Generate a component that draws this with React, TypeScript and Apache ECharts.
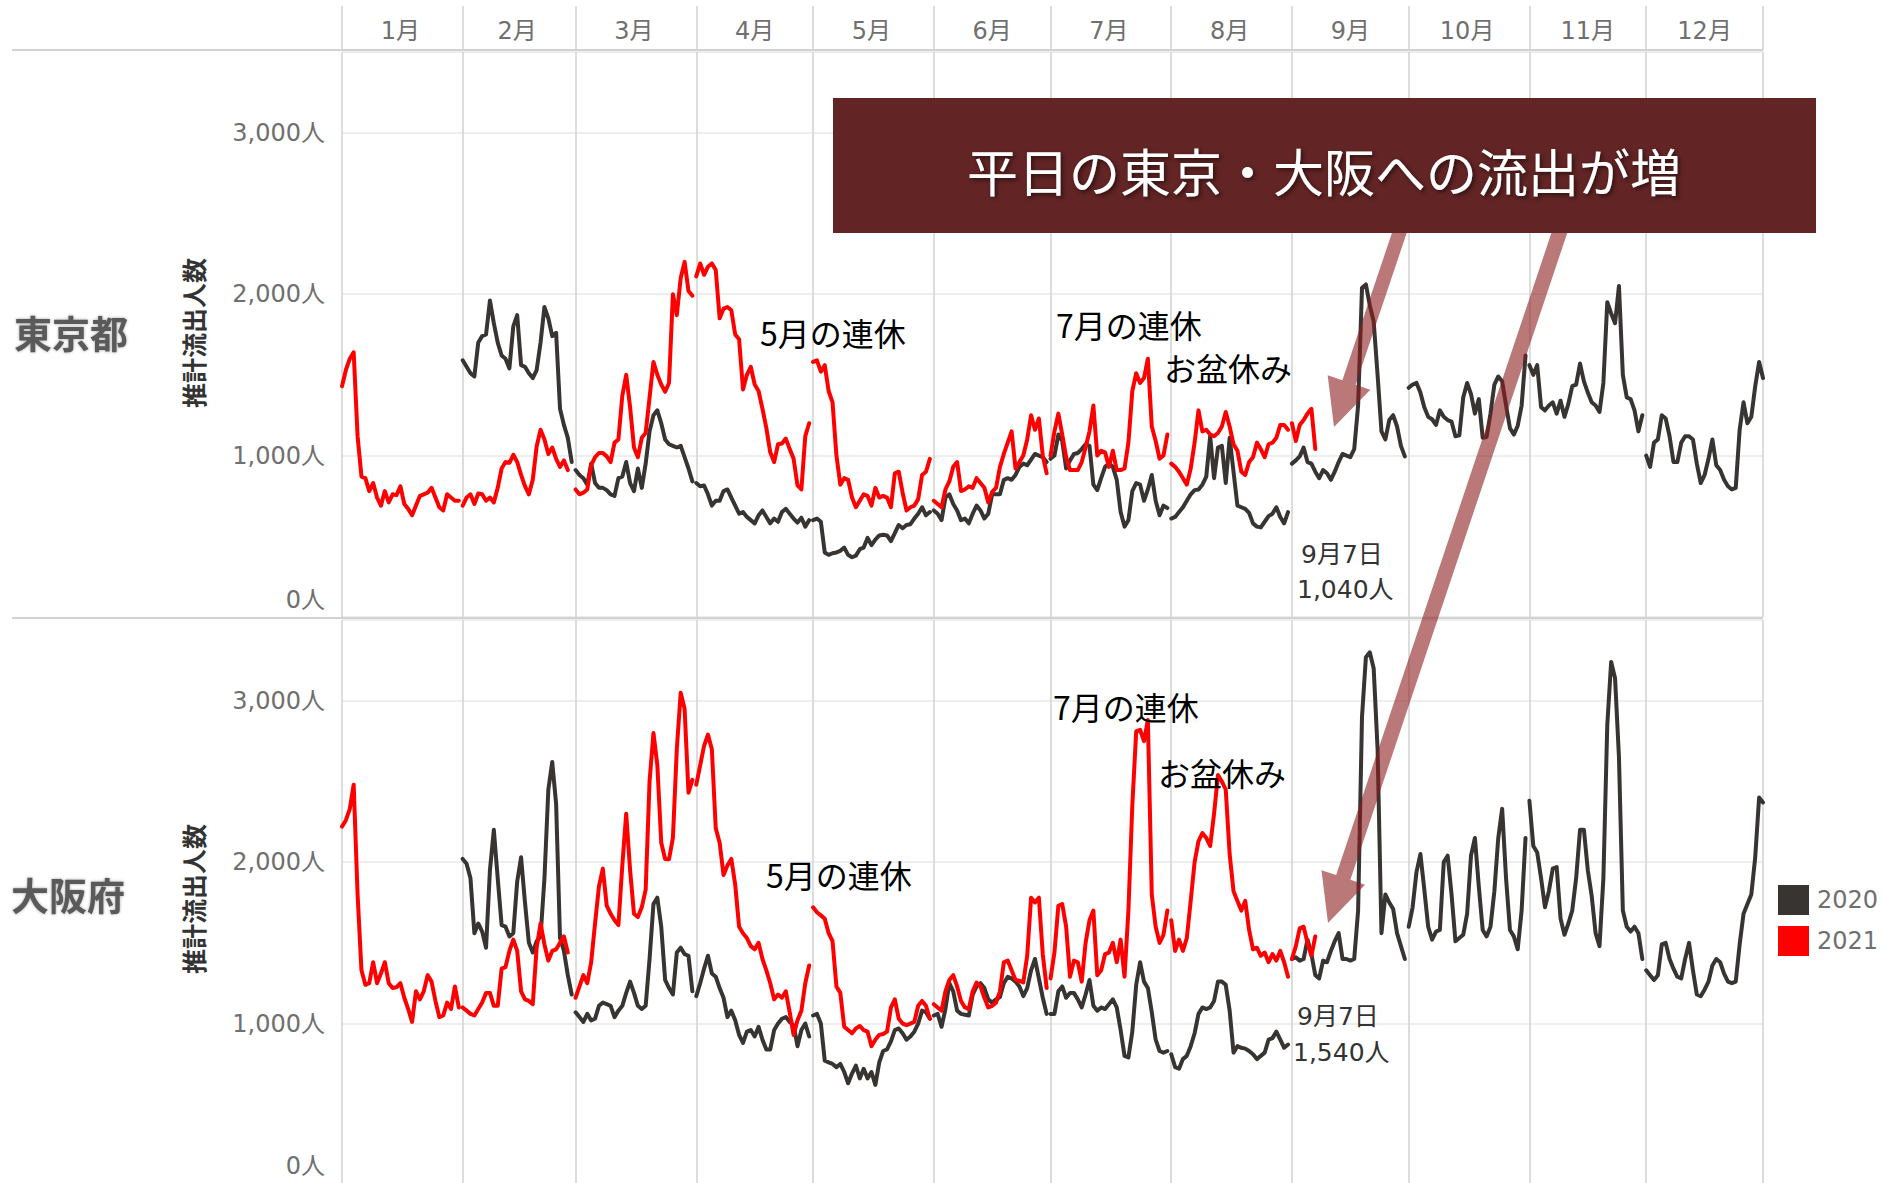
import React, { useEffect, useRef } from 'react';
import * as echarts from 'echarts';

const FONT = '"Noto Sans CJK JP", "Noto Sans", sans-serif';
const NUM_FONT = '"DejaVu Sans", "Noto Sans CJK JP", sans-serif';
const MONTH_LABELS = ['1月', '2月', '3月', '4月', '5月', '6月', '7月', '8月', '9月', '10月', '11月', '12月'];
// day slots per month on the shared (2020, leap-year) day axis
const MONTH_DAYS = [31, 29, 31, 30, 31, 30, 31, 31, 30, 31, 30, 31];
const SERIES_NAMES = ['2020', '2021'];
const Y_TICK_VALUES = [1000, 2000, 3000];

// 東京都 — daily estimated outflow, one array per month (Jan..Dec)
const tokyo2020 = [
  [],
  [1590, 1550, 1510, 1490, 1700, 1740, 1750, 1960, 1820, 1700, 1620, 1600, 1540, 1800, 1870, 1560, 1550, 1510, 1480, 1530, 1700, 1920, 1850, 1740, 1760, 1290, 1190, 1110, 960],
  [910, 880, 860, 820, 950, 830, 800, 800, 786, 760, 750, 860, 870, 960, 830, 780, 920, 800, 950, 1150, 1250, 1280, 1200, 1100, 1070, 1060, 1050, 1060, 990, 920, 840],
  [830, 810, 815, 760, 690, 720, 720, 780, 790, 740, 690, 640, 650, 620, 600, 580, 630, 660, 620, 580, 610, 590, 650, 670, 640, 610, 585, 615, 560, 600],
  [600, 610, 590, 400, 385, 395, 400, 410, 430, 385, 370, 380, 420, 430, 490, 445, 480, 505, 510, 505, 470, 520, 570, 550, 570, 575, 610, 640, 680, 630, 650],
  [660, 640, 600, 740, 760, 700, 660, 600, 610, 580, 640, 690, 660, 610, 640, 760, 760, 760, 850, 860, 850, 880, 930, 950, 940, 975, 1010, 1000, 990, 960],
  [980, 1000, 1130, 1090, 920, 970, 1010, 1016, 1040, 1070, 1060, 820, 786, 860, 930, 950, 930, 850, 650, 560, 600, 780, 830, 820, 720, 790, 880, 720, 630, 690, 675],
  [610, 620, 650, 680, 720, 760, 786, 790, 820, 870, 1120, 860, 1050, 1060, 830, 1110, 900, 690, 680, 670, 645, 580, 560, 555, 590, 625, 640, 680, 620, 580, 650],
  [950, 970, 995, 1050, 960, 950, 900, 860, 910, 890, 850, 900, 960, 1010, 1000, 990, 1040, 1310, 2040, 2060, 1930, 1830, 1500, 1150, 1100, 1220, 1250, 1180, 1060, 995],
  [1420, 1440, 1450, 1390, 1300, 1240, 1225, 1190, 1280, 1240, 1220, 1210, 1120, 1125, 1360, 1450, 1380, 1260, 1350, 1110, 1115, 1260, 1440, 1490, 1460, 1310, 1170, 1130, 1185, 1310, 1620],
  [1560, 1500, 1560, 1300, 1280, 1310, 1330, 1260, 1340, 1240, 1320, 1430, 1440, 1570, 1460, 1390, 1330, 1310, 1270, 1450, 1950, 1880, 1820, 2050, 1500, 1360, 1350, 1280, 1150, 1250],
  [1000, 930, 1080, 1100, 1250, 1230, 1120, 960, 960, 1080, 1120, 1120, 1100, 950, 830, 880, 980, 1100, 940, 910, 850, 810, 790, 800, 1160, 1330, 1200, 1240, 1430, 1580, 1480],
];

const tokyo2021 = [
  [1430, 1530, 1600, 1640, 1120, 870, 860, 780, 830, 740, 690, 780, 710, 760, 755, 810, 700, 670, 630, 690, 750, 760, 770, 800, 740, 680, 660, 760, 740, 720, 720],
  [690, 740, 760, 700, 765, 760, 720, 740, 710, 800, 920, 960, 955, 1005, 960, 880, 810, 760, 850, 1057, 1160, 1100, 1010, 1050, 980, 930, 970, 910],
  [790, 760, 770, 790, 940, 990, 1016, 1016, 995, 960, 1080, 1100, 1370, 1500, 1300, 1050, 990, 1110, 1140, 1360, 1580, 1500, 1440, 1395, 1450, 2000, 1870, 2100, 2200, 2020, 1990],
  [2110, 2190, 2120, 2170, 2190, 2150, 1850, 1910, 1920, 1900, 1750, 1720, 1410, 1500, 1550, 1440, 1400, 1290, 1170, 1020, 960, 1070, 1075, 1105, 1040, 980, 815, 790, 1120, 1200],
  [1580, 1590, 1520, 1560, 1400, 1330, 1000, 820, 860, 850, 740, 680, 720, 760, 750, 690, 800, 740, 750, 740, 680, 890, 900, 770, 660, 680, 690, 730, 880, 900, 980],
  [720, 700, 680, 790, 840, 930, 960, 780, 790, 810, 800, 860, 830, 800, 710, 775, 800, 930, 1010, 1080, 1150, 920, 960, 1000, 1100, 1250, 1160, 1230, 1000, 890],
  [1000, 1150, 1260, 1130, 990, 910, 910, 910, 960, 1050, 1150, 1310, 1000, 1030, 1020, 930, 1030, 910, 910, 920, 1080, 1400, 1510, 1450, 1480, 1600, 1180, 1090, 980, 1000, 1130],
  [950, 930, 900, 860, 820, 920, 1080, 1280, 1150, 1160, 1130, 1120, 1140, 1180, 1270, 1180, 1070, 1030, 900, 880, 960, 990, 1080, 1040, 990, 1070, 1080, 1110, 1190, 1190, 1160],
  [1200, 1090, 1190, 1220, 1260, 1290, 1040],
  [], [], [],
];

// 大阪府
const osaka2020 = [
  [],
  [2020, 1990, 1900, 1560, 1620, 1570, 1470, 1950, 2200, 1900, 1610, 1600, 1540, 1560, 1880, 2030, 1750, 1500, 1440, 1510, 1540, 1900, 2450, 2620, 2360, 1530, 1450, 1300, 1180],
  [1070, 1040, 1010, 1060, 1020, 1030, 1110, 1130, 1120, 1110, 1040, 1080, 1110, 1190, 1260, 1190, 1110, 1090, 1110, 1400, 1740, 1780, 1600, 1270, 1220, 1180, 1440, 1470, 1430, 1420, 1200],
  [1170, 1250, 1340, 1420, 1310, 1290, 1220, 1160, 1040, 1080, 1020, 930, 880, 950, 960, 920, 980, 900, 840, 840, 960, 1000, 1030, 1040, 1010, 990, 860, 960, 1000, 920],
  [1050, 1060, 1000, 770, 760, 750, 730, 750, 700, 630, 690, 740, 660, 720, 660, 700, 620, 760, 830, 840, 890, 960, 970, 940, 900, 920, 950, 1000, 1080, 1070, 1030],
  [1050, 1060, 980, 1090, 1250, 1200, 1080, 1060, 1055, 1050, 1180, 1230, 1250, 1220, 1150, 1130, 1150, 1165, 1250, 1290, 1280, 1260, 1230, 1170, 1220, 1330, 1400, 1280, 1160, 1060],
  [1060, 1060, 1200, 1230, 1160, 1190, 1190, 1150, 1100, 1180, 1270, 1110, 1080, 1100, 1090, 1120, 1150, 1100, 960, 800, 790, 950, 1240, 1380, 1260, 1220, 1070, 900, 830, 820, 830],
  [810, 730, 720, 780, 800, 860, 940, 1060, 1100, 1090, 1100, 1140, 1260, 1260, 1240, 1080, 820, 860, 850, 845, 830, 810, 780, 800, 820, 900, 910, 950, 900, 850, 870],
  [1400, 1410, 1390, 1400, 1520, 1430, 1300, 1280, 1390, 1380, 1450, 1510, 1560, 1400, 1400, 1390, 1400, 1700, 2900, 3270, 3300, 3200, 2700, 1560, 1800, 1750, 1710, 1560, 1480, 1400],
  [1600, 1720, 1940, 2050, 1830, 1600, 1520, 1570, 1580, 2000, 2040, 1800, 1510, 1530, 1550, 1680, 2040, 2150, 1850, 1580, 1540, 1600, 1820, 2150, 2330, 1900, 1580, 1540, 1460, 1700, 2150],
  [2380, 2100, 2060, 1900, 1720, 1820, 1960, 1970, 1650, 1550, 1620, 1700, 1900, 2200, 2200, 1950, 1790, 1560, 1480, 1900, 2850, 3240, 3140, 2650, 1700, 1600, 1570, 1600, 1560, 1400],
  [1330, 1300, 1270, 1300, 1490, 1500, 1400, 1340, 1290, 1280, 1400, 1500, 1330, 1180, 1170, 1210, 1260, 1360, 1400, 1380, 1310, 1260, 1250, 1260, 1490, 1680, 1740, 1800, 2030, 2400, 2370],
];

const osaka2021 = [
  [2220, 2260, 2330, 2480, 1800, 1330, 1240, 1250, 1380, 1250, 1310, 1380, 1250, 1220, 1225, 1250, 1160, 1090, 1010, 1200, 1150, 1200, 1300, 1260, 1140, 1040, 1050, 1130, 1090, 1230, 1100],
  [1100, 1080, 1060, 1050, 1090, 1130, 1190, 1190, 1110, 1110, 1340, 1350, 1450, 1520, 1450, 1200, 1150, 1140, 1120, 1470, 1620, 1490, 1390, 1450, 1460, 1500, 1540, 1440],
  [1160, 1230, 1300, 1250, 1380, 1620, 1850, 1960, 1730, 1680, 1640, 1610, 1980, 2300, 1950, 1680, 1660, 1720, 1830, 2500, 2800, 2600, 2120, 2020, 2018, 2150, 2700, 3050, 2950, 2430, 2510],
  [2480, 2600, 2720, 2790, 2700, 2210, 2120, 1920, 1980, 2020, 1860, 1600, 1560, 1530, 1480, 1460, 1500, 1400, 1330, 1250, 1150, 1180, 1160, 1200, 1070, 930, 1020, 1080, 1250, 1360],
  [1720, 1690, 1670, 1650, 1560, 1510, 1230, 1190, 980, 960, 940, 970, 985, 960, 950, 860, 900, 930, 935, 950, 1100, 1150, 1030, 1000, 990, 1000, 1010, 1110, 1140, 1110, 1030],
  [1120, 1100, 1080, 1200, 1270, 1300, 1230, 1140, 1100, 1090, 1200, 1254, 1230, 1160, 1100, 1110, 1130, 1200, 1380, 1390, 1330, 1270, 1265, 1255, 1420, 1780, 1750, 1780, 1430, 1220],
  [1280, 1440, 1729, 1740, 1600, 1290, 1390, 1380, 1260, 1500, 1640, 1700, 1300, 1330, 1430, 1440, 1500, 1380, 1520, 1290, 1700, 2350, 2810, 2820, 2750, 2880, 1800, 1600, 1500, 1550, 1700],
  [1640, 1450, 1520, 1450, 1530, 1760, 2000, 2130, 2180, 2150, 2100, 2300, 2540, 2500, 2450, 2050, 1820, 1760, 1700, 1760, 1580, 1460, 1470, 1420, 1440, 1380, 1430, 1390, 1450, 1380, 1290],
  [1400, 1480, 1590, 1600, 1500, 1420, 1540],
  [], [], [],
];

const MONTH_START: number[] = [];
MONTH_DAYS.reduce((acc, n) => { MONTH_START.push(acc); return acc + n; }, 0);
const TOTAL_DAYS = MONTH_DAYS.reduce((a, b) => a + b, 0);
const DAYS: string[] = [];
MONTH_DAYS.forEach((n, m) => { for (let d = 1; d <= n; d++) DAYS.push(`${m + 1}/${d}`); });
const BOUNDARY = new Set([...MONTH_START, TOTAL_DAYS - 1]);
const MID = new Map<number, string>();
MONTH_START.forEach((s, m) => MID.set(Math.floor(s + MONTH_DAYS[m] / 2), MONTH_LABELS[m]));

// Each month is its own pane: break the line between months
function build(months: number[][]) {
  const out: any[] = [];
  months.forEach((vals, m) => {
    if (!vals.length) return;
    vals.forEach((v, i) => out.push([MONTH_START[m] + i, v]));
    out.push([MONTH_START[m] + vals.length - 0.5, '-']);
  });
  return out;
}

function arrowPoints(sx: number, sy: number, tx: number, ty: number, shaftW: number, headW: number, headL: number) {
  const dx = tx - sx, dy = ty - sy;
  const len = Math.hypot(dx, dy);
  const ux = dx / len, uy = dy / len;
  const px = -uy, py = ux;
  const bx = tx - ux * headL, by = ty - uy * headL;
  return [
    [sx + px * shaftW / 2, sy + py * shaftW / 2],
    [bx + px * shaftW / 2, by + py * shaftW / 2],
    [bx + px * headW / 2, by + py * headW / 2],
    [tx, ty],
    [bx - px * headW / 2, by - py * headW / 2],
    [bx - px * shaftW / 2, by - py * shaftW / 2],
    [sx - px * shaftW / 2, sy - py * shaftW / 2],
  ];
}

const BLACK = '#373432';
const RED = '#ff0000';
const AXIS_GRAY = '#6f6f6f';
const GRID_LEFT = 342;
const GRID_WIDTH = 1421;
const VLINE = { show: true, interval: (i: number) => BOUNDARY.has(i), lineStyle: { color: '#d2d2d2', width: 1.5 } };

function catAxis(gridIndex: number, showLabels: boolean) {
  return {
    type: 'category', gridIndex, position: 'top', data: DAYS, boundaryGap: false,
    axisLine: { show: false }, axisTick: { show: false },
    axisLabel: {
      show: showLabels, interval: (i: number) => MID.has(i),
      formatter: (_v: string, i: number) => MID.get(i) || '',
      margin: 9, fontSize: 24, color: AXIS_GRAY, fontFamily: NUM_FONT,
    },
    splitLine: VLINE,
  };
}

function valAxis(gridIndex: number) {
  return {
    type: 'value', gridIndex, min: 0, max: 3500, interval: 1000,
    axisLine: { show: false }, axisTick: { show: false },
    axisLabel: {
      margin: 17, showMaxLabel: false, showMinLabel: false,
      fontSize: 24, color: AXIS_GRAY, fontFamily: NUM_FONT,
      formatter: (v: number) => Y_TICK_VALUES.includes(v) ? `${v.toLocaleString('en-US')}人` : '',
    },
    splitLine: { show: true, lineStyle: { color: '#eeeeee', width: 2 } },
  };
}

function lineSeries(name: string, color: string, xi: number, yi: number, data: any[], z: number) {
  return {
    name, type: 'line', xAxisIndex: xi, yAxisIndex: yi, data, symbol: 'none', showSymbol: false,
    connectNulls: false, z,
    lineStyle: { color, width: 4, join: 'round', cap: 'round' },
    itemStyle: { color },
    emphasis: { disabled: true },
  };
}

function label(text: string, x: number, y: number, size: number, color: string, extra: any = {}) {
  return {
    type: 'text', x, y, z: 40,
    style: { text, fontSize: size, fontFamily: FONT, fill: color, align: 'left', verticalAlign: 'middle', ...extra },
  };
}

const ARROW_FILL = 'rgba(140, 30, 30, 0.6)';

export default function App() {
  const ref = useRef<HTMLDivElement>(null);
  useEffect(() => {
    if (!ref.current) return;
    const chart = echarts.init(ref.current, null, { renderer: 'svg' });
    const option: any = {
      animation: false,
      backgroundColor: '#ffffff',
      textStyle: { fontFamily: FONT },
      grid: [
        { left: GRID_LEFT, width: GRID_WIDTH, top: 6, height: 44, containLabel: false, outerBoundsMode: 'none' },
        { left: GRID_LEFT, width: GRID_WIDTH, top: 52, height: 565, containLabel: false, outerBoundsMode: 'none' },
        { left: GRID_LEFT, width: GRID_WIDTH, top: 620, height: 565, containLabel: false, outerBoundsMode: 'none' },
      ],
      xAxis: [
        catAxis(0, false),
        catAxis(1, true),
        { type: 'value', gridIndex: 1, min: 0, max: TOTAL_DAYS - 1, show: false },
        catAxis(2, false),
        { type: 'value', gridIndex: 2, min: 0, max: TOTAL_DAYS - 1, show: false },
      ],
      yAxis: [
        { type: 'value', gridIndex: 0, show: false },
        valAxis(1),
        valAxis(2),
      ],
      legend: {
        data: SERIES_NAMES, orient: 'vertical', left: 1773, top: 880, itemWidth: 31, itemHeight: 30, itemGap: 11,
        icon: 'rect', selectedMode: false,
        textStyle: { fontSize: 24, color: AXIS_GRAY, fontFamily: NUM_FONT, padding: [0, 0, 0, 3] },
      },
      tooltip: { show: false },
      series: [
        lineSeries(SERIES_NAMES[0], BLACK, 2, 1, build(tokyo2020), 3),
        lineSeries(SERIES_NAMES[1], RED, 2, 1, build(tokyo2021), 4),
        lineSeries(SERIES_NAMES[0], BLACK, 4, 2, build(osaka2020), 3),
        lineSeries(SERIES_NAMES[1], RED, 4, 2, build(osaka2021), 4),
      ],
      graphic: [
        { type: 'line', z: 20, shape: { x1: 12, y1: 50, x2: 1763, y2: 50 }, style: { stroke: '#d2d2d2', lineWidth: 2 } },
        { type: 'line', z: 20, shape: { x1: 12, y1: 618, x2: 1763, y2: 618 }, style: { stroke: '#d2d2d2', lineWidth: 2 } },
        // bottom tick labels of each panel sit just above their baseline
        { type: 'text', x: 325, y: 600, z: 40, style: { text: '0人', fontSize: 24, fontFamily: NUM_FONT, fill: AXIS_GRAY, align: 'right', verticalAlign: 'middle' } },
        { type: 'text', x: 325, y: 1166, z: 40, style: { text: '0人', fontSize: 24, fontFamily: NUM_FONT, fill: AXIS_GRAY, align: 'right', verticalAlign: 'middle' } },
        label('東京都', 14, 331, 38, '#5a5a5a', { fontWeight: 'bold', textShadowColor: 'rgba(0,0,0,0.35)', textShadowBlur: 3 }),
        label('大阪府', 11, 893, 38, '#5a5a5a', { fontWeight: 'bold', textShadowColor: 'rgba(0,0,0,0.35)', textShadowBlur: 3 }),
        { type: 'text', x: 193, y: 333, rotation: Math.PI / 2, z: 40, style: { text: '推計流出人数', fontSize: 25, fontWeight: 'bold', fontFamily: FONT, fill: '#333', align: 'center', verticalAlign: 'middle' } },
        { type: 'text', x: 193, y: 899, rotation: Math.PI / 2, z: 40, style: { text: '推計流出人数', fontSize: 25, fontWeight: 'bold', fontFamily: FONT, fill: '#333', align: 'center', verticalAlign: 'middle' } },
        label('5月の連休', 760, 332, 32, '#000'),
        label('7月の連休', 1056, 324, 32, '#000'),
        label('お盆休み', 1164, 367, 32, '#000'),
        label('9月7日', 1301, 554, 25, '#333', { fontFamily: NUM_FONT }),
        label('1,040人', 1297, 589, 25, '#333', { fontFamily: NUM_FONT }),
        label('7月の連休', 1053, 706, 32, '#000'),
        label('お盆休み', 1158, 772, 32, '#000'),
        label('5月の連休', 766, 874, 32, '#000'),
        label('9月7日', 1297, 1016, 25, '#333', { fontFamily: NUM_FONT }),
        label('1,540人', 1293, 1052, 25, '#333', { fontFamily: NUM_FONT }),
        { type: 'polygon', z: 50, shape: { points: arrowPoints(1403, 222, 1334, 427, 14, 45, 47) }, style: { fill: ARROW_FILL } },
        { type: 'polygon', z: 50, shape: { points: arrowPoints(1563, 222, 1328, 923, 15, 46, 48) }, style: { fill: ARROW_FILL } },
        { type: 'rect', z: 60, shape: { x: 833, y: 98, width: 983, height: 135 }, style: { fill: '#622424' } },
        {
          type: 'text', z: 61, x: 1324, y: 170,
          style: {
            text: '平日の東京・大阪への流出が増', fontSize: 51, fontFamily: FONT, fill: '#ffffff',
            align: 'center', verticalAlign: 'middle',
            textShadowColor: 'rgba(0,0,0,0.55)', textShadowBlur: 4, textShadowOffsetX: 2, textShadowOffsetY: 2,
          },
        },
      ],
    };
    chart.setOption(option);
    return () => chart.dispose();
  }, []);
  return <div ref={ref} style={{ position: 'absolute', left: 0, top: 0, width: 1883, height: 1183 }} />;
}
